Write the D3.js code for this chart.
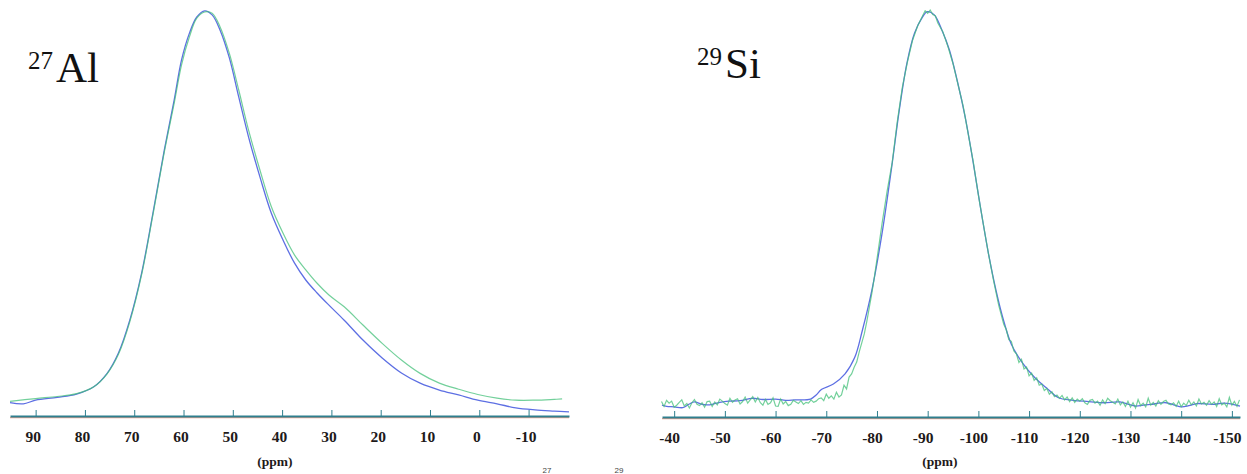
<!DOCTYPE html>
<html>
<head>
<meta charset="utf-8">
<script src="https://cdn.jsdelivr.net/npm/d3@7"></script>
<style>
  html, body { margin: 0; padding: 0; background: #fff; }
  svg { display: block; }
</style>
</head>
<body>
<svg id="chart" width="1247" height="474"></svg>
<script>
// ---------------- DATA ----------------
// 27Al panel (ppm, relative intensity %)
const alTicks = [90, 80, 70, 60, 50, 40, 30, 20, 10, 0, -10];
const alBlue = [
  [95.2, 3.3], [92.5, 3.0], [90, 3.9], [85.6, 4.6], [81.7, 5.4], [78.2, 7.2], [75.5, 10.5],
  [73.2, 15.5], [70.9, 23.6], [68.5, 35.2], [66.2, 50.0], [63.9, 65.5], [61.9, 77.8],
  [60.4, 87.7], [58.8, 94.3], [57.3, 98.3], [55.7, 99.8], [54.2, 98.8], [52.6, 95.1],
  [50.7, 88.2], [48.8, 78.6], [46.8, 68.7], [44.5, 58.9], [42.2, 50.0], [39.8, 43.3],
  [37.5, 37.7], [35.2, 33.5], [32.9, 30.3], [30.5, 27.3], [27.4, 23.6], [23.6, 18.7],
  [19.7, 14.3], [15.8, 10.6], [12.0, 8.1], [8.1, 6.4], [4.2, 5.2], [0.3, 3.9],
  [-3.6, 3.0], [-7.4, 2.0], [-11.3, 1.5], [-15.2, 1.2], [-18.2, 1.0]
];
const alGreen = [
  [95.2, 3.6], [90, 4.3], [85.6, 4.8], [81.7, 5.5], [78.2, 7.2], [75.5, 10.4],
  [73.2, 15.2], [70.9, 23.2], [68.5, 34.8], [66.2, 49.6], [63.9, 65.0], [61.9, 77.0],
  [60.4, 86.5], [58.8, 93.4], [57.3, 98.0], [55.7, 99.5], [54.2, 99.2], [52.6, 95.9],
  [50.7, 89.3], [48.8, 80.3], [46.8, 70.4], [44.5, 60.6], [42.2, 51.6], [39.8, 45.0],
  [37.5, 39.7], [35.2, 36.0], [32.9, 32.7], [30.5, 29.8], [27.4, 26.9], [23.6, 22.4],
  [19.7, 17.9], [15.8, 13.8], [12.0, 10.5], [8.1, 8.1], [4.2, 6.6], [0.3, 5.3],
  [-3.6, 4.4], [-7.4, 3.9], [-11.3, 3.9], [-15.2, 4.1], [-16.8, 4.2]
];

// 29Si panel (ppm, relative intensity %)
const siTicks = [-40, -50, -60, -70, -80, -90, -100, -110, -120, -130, -140, -150];
const siBlue = [
  [-37.6, 2.9], [-38.5, 2.6], [-40, 2.5], [-41.7, 2.3], [-43, 3.2], [-44, 3.7], [-45.5, 3.1],
  [-47, 3.0], [-49, 3.6], [-50.8, 3.9], [-53, 4.0], [-55.4, 4.6], [-57.5, 4.3],
  [-60, 4.4], [-62, 4.1], [-63.8, 4.2], [-66.9, 4.4], [-68, 5.4], [-69.1, 6.8],
  [-71.4, 8.1], [-73.7, 10.6], [-75.6, 14.6], [-77.1, 21.2], [-79.1, 31.8], [-81.0, 45.1],
  [-82.9, 61.4], [-84.4, 75.4], [-85.9, 86.9], [-87.4, 94.3], [-89.0, 98.3], [-89.9, 99.6],
  [-91.3, 98.8], [-92.8, 95.1], [-94.3, 90.1], [-95.8, 82.8], [-97.4, 73.7], [-98.9, 63.1],
  [-100.4, 51.6], [-102.0, 40.1], [-103.5, 31.0], [-105.0, 23.6], [-106.5, 17.9],
  [-108.8, 13.1], [-111.1, 9.7], [-113.4, 7.2], [-115.7, 4.8], [-118.7, 4.1],
  [-121.8, 3.8], [-124.8, 3.5], [-127.9, 3.7], [-130.9, 2.7], [-132.5, 2.9], [-134, 3.1],
  [-137, 3.5], [-138.5, 3.0], [-140.1, 2.5], [-141.5, 2.8], [-143.1, 3.3], [-146.2, 3.1],
  [-148.5, 3.4], [-151.6, 2.7]
];
const siGreen = [
  [-37.5, 3.8], [-38, 2.6], [-38.5, 4.1], [-39, 3.4], [-39.5, 3.9], [-40, 2.4], [-40.5, 2.9],
  [-41, 3.6], [-41.5, 4.2], [-42, 2.7], [-42.5, 3.3], [-43, 2.2], [-43.5, 3.5], [-44, 4.3],
  [-44.5, 3.1], [-45, 2.8], [-45.5, 3.5], [-46, 2.4], [-46.5, 3.8], [-47, 3.9], [-47.5, 2.6],
  [-48, 3.7], [-48.5, 3.0], [-49, 4.4], [-49.5, 3.9], [-50, 3.3], [-50.5, 2.9], [-51, 4.6],
  [-51.5, 3.6], [-52, 4.2], [-52.5, 4.5], [-53, 3.2], [-53.5, 3.8], [-54, 4.9], [-54.5, 3.4],
  [-55, 4.2], [-55.5, 5.0], [-56, 3.7], [-56.5, 4.8], [-57, 3.5], [-57.5, 2.9], [-58, 4.3],
  [-58.5, 3.1], [-59, 3.5], [-59.5, 4.7], [-60, 2.7], [-60.5, 2.6], [-61, 4.4], [-61.5, 3.2],
  [-62, 3.8], [-62.5, 2.8], [-63, 3.1], [-63.5, 4.1], [-64, 3.7], [-64.5, 3.3], [-65, 4.0],
  [-65.5, 3.1], [-66, 3.6], [-66.5, 3.4], [-67, 4.2], [-67.5, 3.6], [-68, 3.9], [-68.5, 4.5],
  [-69, 4.7], [-69.5, 4.0], [-70, 5.6], [-70.5, 4.6], [-71, 5.2], [-71.5, 4.4], [-72, 6.1],
  [-72.5, 4.9], [-73, 5.4], [-73.5, 7.8], [-74, 6.9], [-74.5, 9.8], [-75, 10.6], [-75.5, 12.2],
  [-76, 13.5], [-76.5, 16.0], [-77, 18.2], [-77.5, 20.4], [-78, 23.5], [-78.5, 27.0],
  [-79, 30.5], [-79.5, 34.5], [-80, 38.8], [-81, 47.5], [-82, 55.5], [-83, 62.5], [-84, 72.5],
  [-85, 81.0], [-86, 87.2], [-87, 92.5], [-88, 96.0], [-89, 98.6], [-89.5, 99.8], [-90, 99.2],
  [-90.5, 100.0], [-91, 98.9], [-91.5, 98.6], [-92, 96.8], [-93, 94.6], [-94, 91.0],
  [-95, 86.8], [-96, 81.6], [-97, 76.4], [-98, 69.5], [-99, 62.6], [-100, 54.5], [-101, 47.2],
  [-102, 40.0], [-103, 33.5], [-104, 27.5], [-105, 22.8], [-105.5, 21.5], [-106, 19.0],
  [-106.5, 18.6], [-107, 16.2], [-107.5, 15.5], [-108, 13.4], [-108.5, 14.2], [-109, 11.8],
  [-109.5, 12.3], [-110, 10.1], [-110.5, 10.8], [-111, 9.0], [-111.5, 9.6], [-112, 7.8],
  [-112.5, 8.1], [-113, 6.5], [-113.5, 7.0], [-114, 5.6], [-114.5, 6.2], [-115, 5.0],
  [-115.5, 5.4], [-116, 4.6], [-116.5, 5.3], [-117, 4.2], [-117.5, 4.9], [-118, 3.8],
  [-118.5, 4.7], [-119, 3.6], [-119.5, 4.4], [-120, 3.9], [-120.5, 4.5], [-121, 3.5],
  [-121.5, 3.1], [-122, 4.1], [-122.5, 4.3], [-123, 3.4], [-123.5, 3.9], [-124, 2.9],
  [-124.5, 4.2], [-125, 3.3], [-125.5, 4.6], [-126, 4.0], [-126.5, 3.6], [-127, 3.2],
  [-127.5, 4.4], [-128, 3.0], [-128.5, 3.7], [-129, 2.6], [-129.5, 3.9], [-130, 2.4],
  [-130.5, 3.5], [-131, 2.2], [-131.5, 4.3], [-132, 2.8], [-132.5, 3.4], [-133, 2.5],
  [-133.5, 4.6], [-134, 2.9], [-134.5, 3.6], [-135, 2.7], [-135.5, 4.0], [-136, 3.1],
  [-136.5, 3.8], [-137, 4.1], [-137.5, 3.2], [-138, 3.0], [-138.5, 3.5], [-139, 2.6],
  [-139.5, 3.9], [-140, 2.5], [-140.5, 3.4], [-141, 2.8], [-141.5, 4.1], [-142, 3.0],
  [-142.5, 3.7], [-143, 2.7], [-143.5, 4.4], [-144, 3.2], [-144.5, 3.6], [-145, 2.9],
  [-145.5, 4.0], [-146, 3.1], [-146.5, 3.7], [-147, 2.6], [-147.5, 4.5], [-148, 3.0],
  [-148.5, 3.4], [-149, 2.5], [-149.5, 4.8], [-150, 2.9], [-150.5, 3.8], [-151, 2.6],
  [-151.5, 4.2]
];

const panelLabels = [
  { sup: "27", main: "Al" },
  { sup: "29", main: "Si" }
];
const axisTitle = "(ppm)";
const captionFragments = ["27", "29"];

// ---------------- DRAW ----------------
const svg = d3.select("#chart");
const BLUE = "#5d6fe3";
const GREEN = "#44c07a";
const AXIS = "#2f7f8e";
const AXIS_UNDER = "#eea48f";
const SERIF = "'Liberation Serif', 'Times New Roman', serif";

function panel(cfg) {
  const x = d3.scaleLinear().domain(cfg.domain).range(cfg.range);
  const y = d3.scaleLinear().domain([0, 100]).range([cfg.axisY, 10]);
  const g = svg.append("g");

  // axis under-line (salmon)
  g.append("line")
    .attr("x1", cfg.range[0]).attr("x2", cfg.range[1])
    .attr("y1", cfg.axisY + 1.6).attr("y2", cfg.axisY + 1.6)
    .attr("stroke", AXIS_UNDER).attr("stroke-width", 1.2);

  const axis = d3.axisBottom(x)
    .tickValues(cfg.ticks)
    .tickSizeInner(-6)
    .tickSizeOuter(0)
    .tickPadding(15)
    .tickFormat(d => String(d));
  const ag = g.append("g").attr("transform", `translate(0,${cfg.axisY})`).call(axis)
    .attr("font-family", SERIF).attr("font-size", 15.5).attr("font-weight", "bold");
  ag.select(".domain").attr("stroke", AXIS).attr("stroke-width", 1.8);
  ag.selectAll(".tick line").attr("stroke", AXIS).attr("stroke-width", 1);
  ag.selectAll(".tick text")
    .attr("fill", "#1e1a1a")
    .attr("dx", cfg.labelDx)
    .style("font-family", SERIF)
    .style("font-weight", "bold")
    .style("font-size", "15.5px");

  // axis title
  g.append("text")
    .attr("x", cfg.titleX).attr("y", 466)
    .attr("text-anchor", "middle")
    .attr("fill", "#1e1a1a")
    .style("font-family", SERIF)
    .style("font-weight", "bold")
    .style("font-size", "13.5px")
    .text(axisTitle);

  // curves
  g.append("path").datum(cfg.blue)
    .attr("fill", "none").attr("stroke", BLUE).attr("stroke-width", 1.3)
    .attr("d", d3.line().x(d => x(d[0])).y(d => y(d[1])).curve(d3.curveCatmullRom.alpha(0.5)));
  g.append("path").datum(cfg.green)
    .attr("fill", "none").attr("stroke", GREEN).attr("stroke-width", 1.2)
    .attr("stroke-opacity", 0.75)
    .attr("d", d3.line().x(d => x(d[0])).y(d => y(d[1])).curve(cfg.greenCurve));

  // nucleus label
  const t = g.append("text")
    .attr("x", cfg.labelX).attr("y", cfg.labelY)
    .attr("fill", "#111")
    .style("font-family", SERIF);
  t.append("tspan").style("font-size", "25px").attr("dy", -13).text(cfg.label.sup);
  t.append("tspan").style("font-size", "43px").attr("dy", 13).attr("dx", 3).text(cfg.label.main);
}

panel({
  domain: [95.2, -18.2], range: [10, 569], axisY: 416,
  ticks: alTicks, labelDx: -3, titleX: 275,
  blue: alBlue, green: alGreen, greenCurve: d3.curveCatmullRom.alpha(0.5),
  label: panelLabels[0], labelX: 28, labelY: 82
});
panel({
  domain: [-37.6, -151.6], range: [662, 1240], axisY: 417,
  ticks: siTicks, labelDx: -5, titleX: 940,
  blue: siBlue, green: siGreen, greenCurve: d3.curveLinear,
  label: panelLabels[1], labelX: 697, labelY: 78
});

// caption superscripts at the very bottom edge
svg.selectAll("text.cap").data(captionFragments).enter().append("text")
  .attr("class", "cap")
  .attr("x", (d, i) => i === 0 ? 547 : 619)
  .attr("y", 473)
  .attr("text-anchor", "middle")
  .attr("fill", "#444")
  .style("font-family", "'Liberation Sans', Arial, sans-serif")
  .style("font-size", "8px")
  .text(d => d);
</script>
</body>
</html>
